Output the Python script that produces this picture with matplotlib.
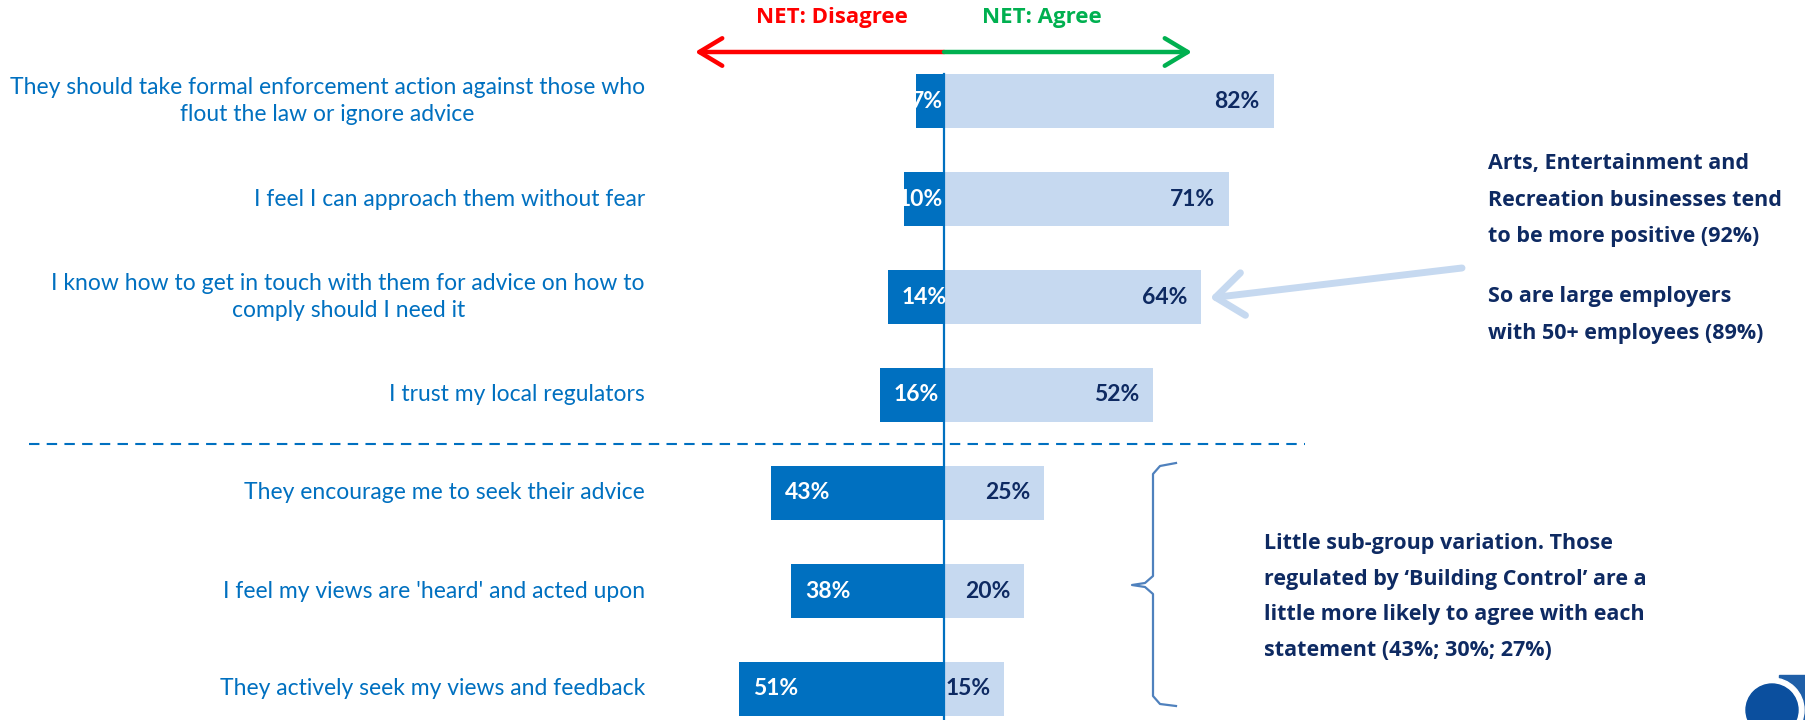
import matplotlib

matplotlib.use("Agg")
import matplotlib.pyplot as plt
from matplotlib.patches import Ellipse, FancyArrowPatch, Rectangle
import numpy as np

# data
statements = [
    "They should take formal enforcement action against those who\nflout the law or ignore advice",
    "I feel I can approach them without fear",
    "I know how to get in touch with them for advice on how to\ncomply should I need it",
    "I trust my local regulators",
    "They encourage me to seek their advice",
    "I feel my views are 'heard' and acted upon",
    "They actively seek my views and feedback",
]
net_disagree = [7, 10, 14, 16, 43, 38, 51]
net_agree = [82, 71, 64, 52, 25, 20, 15]

note_top = "Arts, Entertainment and\nRecreation businesses tend\nto be more positive (92%)"
note_mid = "So are large employers\nwith 50+ employees (89%)"
note_bottom = ("Little sub-group variation. Those\nregulated by \u2018Building Control\u2019 are a\n"
               "little more likely to agree with each\nstatement (43%; 30%; 27%)")

DARK = "#0070C0"
LIGHT = "#C6D9F0"
NAVY = "#0E2A62"
RED = "#FF0000"
GREEN = "#00B050"
FONT = "Lato"
BOLD_FONT = "Open Sans"

W, H = 1806, 720
ZERO_PX = 944      # pixel column of the 0 line
PX_PER_PCT = 4.02
ROW0_PX = 101      # pixel row of the first bar centre
ROW_STEP = 98


def fx(x):
    return x / W


def fy(y):
    return 1 - y / H


fig = plt.figure(figsize=(W / 100, H / 100), dpi=100)
ax = fig.add_axes([0, 0, 1, 1])
ax.set_xlim(-ZERO_PX / PX_PER_PCT, (W - ZERO_PX) / PX_PER_PCT)
ax.set_ylim((H - ROW0_PX) / ROW_STEP, -ROW0_PX / ROW_STEP)
ax.axis("off")

rows = np.arange(len(statements))
dis = np.array(net_disagree)
agr = np.array(net_agree)
bar_h = 0.55

ax.barh(rows, -dis, height=bar_h, color=DARK, zorder=2)
ax.barh(rows, agr, height=bar_h, color=LIGHT, zorder=2)
ax.plot([0, 0], [-bar_h / 2, (H - ROW0_PX) / ROW_STEP], color=DARK, lw=1.6, zorder=3)

pad = 3.5
for r, d, a, label in zip(rows, dis, agr, statements):
    if d < 12:
        ax.text(-0.3, r, f"{d}%", ha="right", va="center", color="white",
                fontsize=16.5, fontweight="bold", family=FONT, zorder=4)
    else:
        ax.text(-d + pad, r, f"{d}%", ha="left", va="center", color="white",
                fontsize=16.5, fontweight="bold", family=FONT, zorder=4)
    ax.text(a - pad, r, f"{a}%", ha="right", va="center", color=NAVY,
            fontsize=16.5, fontweight="bold", family=FONT, zorder=4)
    ax.text((645 - ZERO_PX) / PX_PER_PCT, r, label, ha="right", va="center",
            multialignment="center", color=DARK, fontsize=16.5, family=FONT,
            linespacing=1.3)

# dashed separator between the two groups
ax.plot([(29 - ZERO_PX) / PX_PER_PCT, (1305 - ZERO_PX) / PX_PER_PCT], [3.5, 3.5],
        color=DARK, lw=1.5, dashes=(5, 3.5), zorder=1)

# header arrows and labels
for tip, col in [(695, RED), (1192, GREEN)]:
    fig.patches.append(FancyArrowPatch(
        (fx(ZERO_PX), fy(52)), (fx(tip), fy(52)), transform=fig.transFigure,
        arrowstyle="->,head_length=0.75,head_width=0.45", mutation_scale=22,
        color=col, lw=3.2, shrinkA=0, shrinkB=0, capstyle="round", joinstyle="round"))
fig.text(fx(832), fy(18), "NET: Disagree", ha="center", va="center", color=RED,
         fontsize=16, fontweight="bold", family=BOLD_FONT)
fig.text(fx(1042), fy(18), "NET: Agree", ha="center", va="center", color=GREEN,
         fontsize=16, fontweight="bold", family=BOLD_FONT)

# call-out arrow
fig.patches.append(FancyArrowPatch(
    (fx(1462), fy(268)), (fx(1210), fy(298)), transform=fig.transFigure,
    arrowstyle="->,head_length=0.9,head_width=0.7", mutation_scale=22,
    color=LIGHT, lw=5, shrinkA=0, shrinkB=0, capstyle="round", joinstyle="round"))

fig.text(fx(1488), fy(200), note_top, ha="left", va="center", color=NAVY,
         fontsize=15.5, fontweight="bold", family=BOLD_FONT, linespacing=1.95)
fig.text(fx(1488), fy(315), note_mid, ha="left", va="center", color=NAVY,
         fontsize=15.5, fontweight="bold", family=BOLD_FONT, linespacing=1.95)
fig.text(fx(1264), fy(597), note_bottom, ha="left", va="center", color=NAVY,
         fontsize=15.5, fontweight="bold", family=BOLD_FONT, linespacing=1.9)

# curly brace
brace_x = [1176, 1160, 1153, 1153, 1145, 1132, 1145, 1153, 1153, 1160, 1176]
brace_y = [463, 466, 474, 576, 583, 585, 587, 594, 696, 704, 706]
fig.lines.append(plt.Line2D([fx(v) for v in brace_x], [fy(v) for v in brace_y],
                            transform=fig.transFigure, color="#4F81BD", lw=1.6,
                            solid_joinstyle="round"))

# partial logo in the corner
fig.patches.append(Rectangle((fx(1779), fy(720)), fx(27), 45 / H,
                             transform=fig.transFigure, color="#1F5FA8"))
fig.patches.append(Ellipse((fx(1772), fy(710)), 64 / W, 64 / H,
                           transform=fig.transFigure, color="white"))
fig.patches.append(Ellipse((fx(1772), fy(710)), 52 / W, 52 / H,
                           transform=fig.transFigure, color="#0B4F9E"))

fig.savefig("out.png", dpi=100, facecolor="white")
